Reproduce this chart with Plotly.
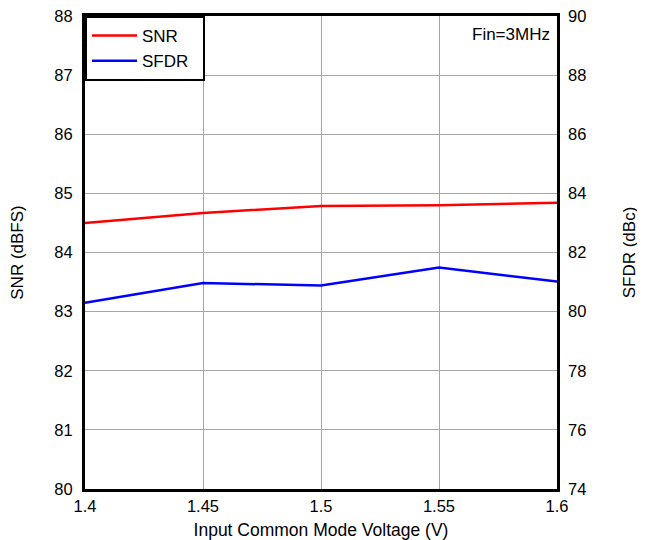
import plotly.graph_objects as go

vcm = [1.4, 1.45, 1.5, 1.55, 1.6]
snr = [84.50, 84.67, 84.785, 84.80, 84.84]
sfdr = [80.30, 80.97, 80.88, 81.49, 81.02]

font = "Liberation Sans, Arial, sans-serif"
fig = go.Figure()
fig.add_trace(go.Scatter(x=vcm, y=snr, mode="lines", name="SNR",
                         line=dict(color="#ff0000", width=2.5)))
fig.add_trace(go.Scatter(x=vcm, y=sfdr, mode="lines", name="SFDR\u00a0\u00a0", yaxis="y2",
                         line=dict(color="#0000ff", width=2.5)))

fig.update_layout(
    width=637, height=532,
    margin=dict(l=77, r=88, t=8, b=51),
    paper_bgcolor="white", plot_bgcolor="white",
    font=dict(family=font, size=16.5, color="black"),
    showlegend=True,
    legend=dict(x=0, y=1, xanchor="left", yanchor="top",
                bordercolor="black", borderwidth=2, bgcolor="white",
                font=dict(size=17), tracegroupgap=0, itemwidth=45),
    xaxis=dict(range=[1.4, 1.6], tickvals=vcm, ticktext=["1.4", "1.45", "1.5", "1.55", "1.6"],
               showgrid=True, gridcolor="#a6a6a6", gridwidth=1,
               showline=True, linecolor="black", linewidth=3, mirror=True,
               ticks="", zeroline=False, automargin=False, ticklabeloverflow="allow",
               title=dict(text="Input Common Mode Voltage (V)", standoff=12, font=dict(size=17.5))),
    yaxis=dict(range=[80, 88], dtick=1, showgrid=True, gridcolor="#a6a6a6", gridwidth=1,
               showline=True, linecolor="black", linewidth=3, mirror=True,
               ticks="", zeroline=False, automargin=False, ticklabelstandoff=6,
               ticklabeloverflow="allow",
               title=dict(text="SNR (dBFS)", standoff=27, font=dict(size=17))),
    yaxis2=dict(range=[74, 90], dtick=2, overlaying="y", side="right",
                showgrid=False, showline=False, ticks="", zeroline=False, automargin=False,
                ticklabelstandoff=10, ticklabeloverflow="allow",
                title=dict(text="SFDR (dBc)", standoff=37, font=dict(size=17))),
    annotations=[dict(text="Fin=3MHz", x=0.99, y=0.96, xref="paper", yref="paper",
                      xanchor="right", yanchor="middle", showarrow=False,
                      font=dict(size=17))],
)
fig.write_html("out.html")
